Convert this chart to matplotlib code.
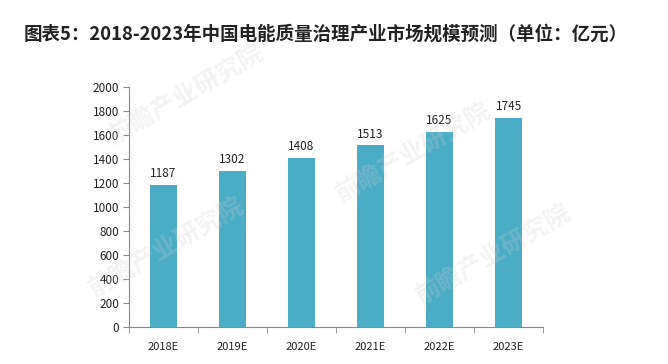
import matplotlib.pyplot as plt

plt.rcParams['font.family'] = ['Noto Sans CJK SC', 'DejaVu Sans']

years = ['2018E', '2019E', '2020E', '2021E', '2022E', '2023E']
values = [1187, 1302, 1408, 1513, 1625, 1745]
yticks = list(range(0, 2001, 200))

fig = plt.figure(figsize=(6.68, 3.64), dpi=100)
ax = fig.add_axes([0.193, 0.102, 0.62, 0.659])

x = list(range(len(years)))
bars = ax.bar(x, values, width=0.39, color='#4BACC6', zorder=3)
for xi, v in zip(x, values):
    ax.text(xi, v + 40, str(v), ha='center', va='bottom', fontsize=8.5, color='#222222')

ax.set_xlim(-0.5, len(years) - 0.5)
ax.set_ylim(0, 2000)
ax.set_yticks(yticks)
ax.set_yticklabels([str(t) for t in yticks], fontsize=8.5, color='#222222')
ax.set_xticks(x)
ax.set_xticklabels(years, fontsize=8, color='#222222')
ax.tick_params(axis='x', length=0, pad=11)
ax.set_xticks([i - 0.5 for i in range(len(years) + 1)], minor=True)
ax.tick_params(axis='x', which='minor', length=4, color='#888888', direction='out')
ax.tick_params(axis='y', length=4, color='#888888', direction='out', pad=3)

for s in ['top', 'right']:
    ax.spines[s].set_visible(False)
for s in ['left', 'bottom']:
    ax.spines[s].set_color('#888888')
    ax.spines[s].set_linewidth(0.8)

# faint watermarks
for wx, wy in [(0.28, 0.74), (0.25, 0.32), (0.62, 0.58), (0.74, 0.30)]:
    fig.text(wx, wy, '前瞻产业研究院', fontsize=18, color='#d0d0d0', alpha=0.25,
             rotation=30, ha='center', va='center', fontweight='bold', zorder=0)

fig.text(0.487, 0.905, '图表5：2018-2023年中国电能质量治理产业市场规模预测（单位：亿元）',
         ha='center', va='center', fontsize=13.3, fontweight='bold', color='#222222')

fig.savefig('out.png', dpi=100)
